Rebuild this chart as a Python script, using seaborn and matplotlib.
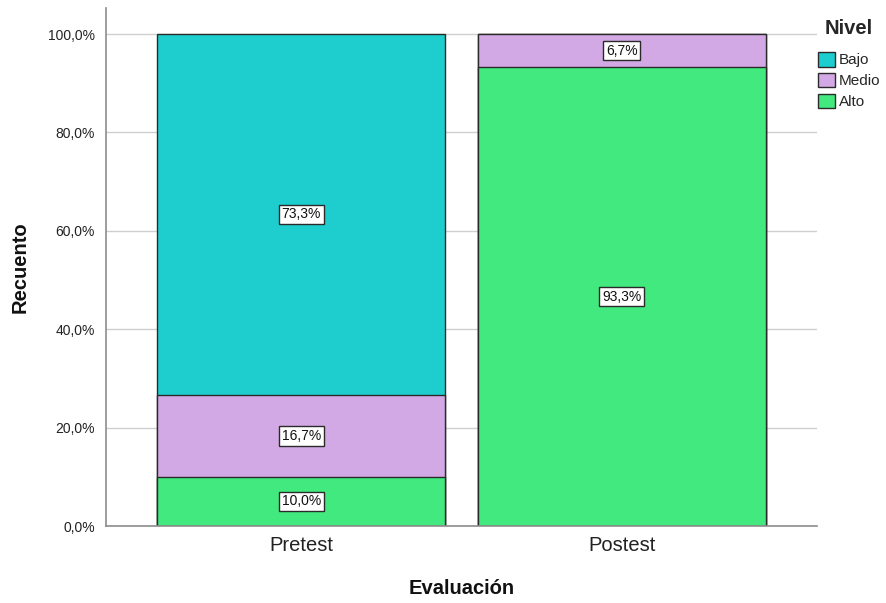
import matplotlib
matplotlib.use("Agg")
import matplotlib.pyplot as plt
import matplotlib.patches as mpatches
from matplotlib.ticker import FuncFormatter
import pandas as pd
import seaborn as sns

# Data: percentage of students per level, for each evaluation
evaluaciones = ["Pretest", "Postest"]
niveles = ["Bajo", "Medio", "Alto"]
alto = [10.0, 93.3]
medio = [16.7, 6.7]
bajo = [73.3, 0.0]
yticks = [0, 20, 40, 60, 80, 100]

colores = {"Bajo": "#1ecdcd", "Medio": "#d2a9e4", "Alto": "#41e97e"}
edge = "#2a2a2a"

sns.set_style("white")
plt.rcParams["font.family"] = ["Liberation Sans", "DejaVu Sans"]

df = pd.DataFrame({"Evaluación": evaluaciones, "Alto": alto, "Medio": medio, "Bajo": bajo})
df["cum_Alto"] = df["Alto"]
df["cum_Medio"] = df["Alto"] + df["Medio"]
df["cum_Bajo"] = df["Alto"] + df["Medio"] + df["Bajo"]

fig = plt.figure(figsize=(8.86, 6.03), dpi=100)
ax = fig.add_axes([106 / 886, 1 - 526 / 603, 711 / 886, 518 / 603])

# Stack: draw the tallest cumulative layer first, then overlay lower layers
for nivel in ["Bajo", "Medio", "Alto"]:
    sns.barplot(data=df, x="Evaluación", y=f"cum_{nivel}", order=evaluaciones,
                color=colores[nivel], width=0.9, edgecolor=edge, linewidth=1.0,
                errorbar=None, saturation=1, ax=ax)

# Value labels in the middle of each segment
for i, ev in enumerate(evaluaciones):
    base = 0.0
    for nivel in ["Alto", "Medio", "Bajo"]:
        val = df.loc[i, nivel]
        if val > 0:
            ax.text(i, base + val / 2, f"{val:.1f}%".replace(".", ","),
                    ha="center", va="center", fontsize=10, color="#111111",
                    bbox=dict(boxstyle="square,pad=0.2", fc="white", ec=edge, lw=1.0),
                    zorder=5)
        base += val

ax.set_xlim(-0.61, 1.61)
ax.set_ylim(0, 105.3)
ax.set_yticks(yticks)
ax.yaxis.set_major_formatter(FuncFormatter(lambda v, p: f"{v:.1f}%".replace(".", ",")))
ax.yaxis.grid(True, color="#cfcfcf", linewidth=1.0)
ax.set_axisbelow(True)

for s in ["top", "right"]:
    ax.spines[s].set_visible(False)
for s in ["left", "bottom"]:
    ax.spines[s].set_color("#8c8c8c")
    ax.spines[s].set_linewidth(1.2)

ax.tick_params(axis="y", length=0, pad=8, labelsize=10, labelcolor="#222222")
ax.tick_params(axis="x", length=0, pad=7, labelsize=14.5, labelcolor="#222222")

ax.set_xlabel("Evaluación", fontsize=14.5, fontweight="bold", color="#111111")
ax.set_ylabel("Recuento", fontsize=14.5, fontweight="bold", color="#111111")
ax.xaxis.set_label_coords(0.5, -0.12)
ax.xaxis.label.set_va("center")
ax.yaxis.set_label_coords(-0.121, 0.5)
ax.yaxis.label.set_va("center")

handles = [mpatches.Patch(facecolor=colores[n], edgecolor=edge, linewidth=1.0) for n in niveles]
leg = fig.legend(handles, niveles, loc="upper left", bbox_to_anchor=(818 / 886, 1 - 19 / 603),
                 frameon=False, borderaxespad=0, borderpad=0, title="Nivel",
                 title_fontproperties={"weight": "bold", "size": 14.5}, fontsize=11,
                 handlelength=1.1, handleheight=1.1, handletextpad=0.25, labelspacing=0.35)
# extra gap between the legend title and its entries
leg._legend_box.sep = 10

fig.savefig("out.png", dpi=100)
